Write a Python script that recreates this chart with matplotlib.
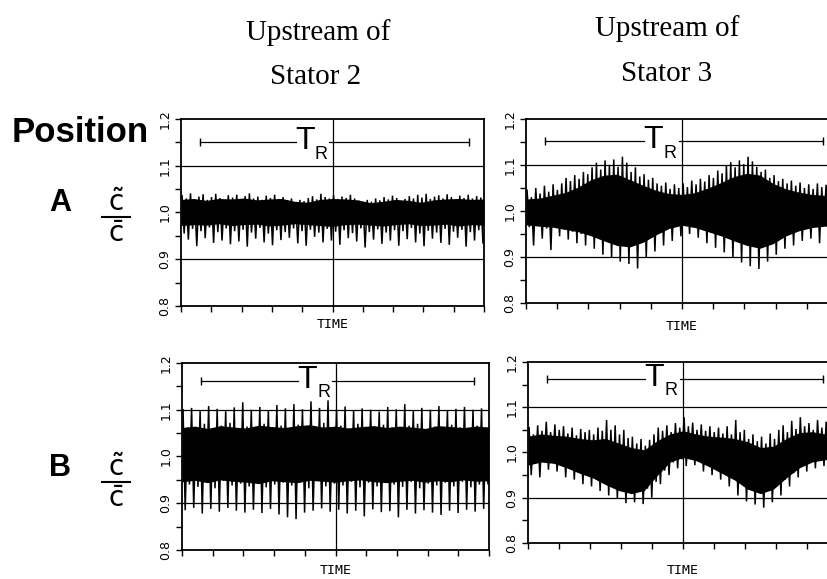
import matplotlib
matplotlib.use('Agg')
import matplotlib.pyplot as plt
from matplotlib.lines import Line2D
import numpy as np

plt.rcParams['mathtext.fontset'] = 'dejavusans'

# ---------------- data ----------------
col_titles = ['Upstream of\nStator 2', 'Upstream of\nStator 3']
row_labels = ['A', 'B']
y_ticks = [0.8, 0.85, 0.9, 0.95, 1.0, 1.05, 1.1, 1.15, 1.2]
y_ticklabels = ['0.8', '', '0.9', '', '1.0', '', '1.1', '', '1.2']
x_ticks = [0.0, 0.1, 0.2, 0.3, 0.4, 0.5, 0.6, 0.7, 0.8, 0.9, 1.0]

# Position A, upstream of stator 2: local maxima / minima of c~/c
a_left_peaks = [1.036, 1.030, 1.041, 1.028, 1.034, 1.039, 1.027, 1.033, 1.040, 1.031, 1.026, 1.037,
                1.032, 1.038, 1.029, 1.035, 1.041, 1.030, 1.034, 1.027, 1.036, 1.031, 1.038, 1.029,
                1.033, 1.026, 1.030, 1.022, 1.027, 1.024, 1.031, 1.035, 1.028, 1.040, 1.033, 1.030,
                1.037, 1.029, 1.034, 1.031, 1.038, 1.030, 1.025, 1.021, 1.027, 1.023, 1.030, 1.026,
                1.033, 1.028, 1.036, 1.031, 1.024, 1.029, 1.035, 1.030, 1.038, 1.032, 1.040, 1.029,
                1.034, 1.037, 1.030, 1.039, 1.033, 1.028, 1.036, 1.031, 1.038, 1.030, 1.035, 1.032]
a_left_troughs = [0.955, 0.942, 0.965, 0.928, 0.960, 0.945, 0.968, 0.935, 0.958, 0.940, 0.966, 0.932,
                  0.960, 0.938, 0.963, 0.927, 0.957, 0.944, 0.967, 0.936, 0.955, 0.930, 0.962, 0.941,
                  0.958, 0.946, 0.966, 0.934, 0.960, 0.929, 0.963, 0.948, 0.957, 0.936, 0.965, 0.940,
                  0.959, 0.931, 0.962, 0.945, 0.956, 0.938, 0.966, 0.925, 0.958, 0.942, 0.964, 0.933,
                  0.957, 0.940, 0.962, 0.929, 0.960, 0.943, 0.967, 0.936, 0.955, 0.928, 0.961, 0.944,
                  0.957, 0.935, 0.965, 0.931, 0.959, 0.946, 0.963, 0.927, 0.958, 0.940, 0.962, 0.935]
# dense (solid black) core of the trace, read at 25 evenly spaced times
a_left_core_top = [1.028, 1.030, 1.026, 1.030, 1.029, 1.031, 1.027, 1.029, 1.030, 1.024, 1.022, 1.028,
                   1.030, 1.029, 1.027, 1.021, 1.024, 1.028, 1.026, 1.022, 1.027, 1.029, 1.030, 1.028, 1.029]
a_left_core_bot = [0.972, 0.974, 0.973, 0.976, 0.972, 0.974, 0.975, 0.971, 0.973, 0.976, 0.974, 0.972,
                   0.970, 0.974, 0.975, 0.973, 0.971, 0.974, 0.976, 0.972, 0.973, 0.975, 0.971, 0.974, 0.973]

# Position A, upstream of stator 3
a_right_peaks = [1.045, 1.030, 1.050, 1.038, 1.055, 1.042, 1.058, 1.046,
                 1.060, 1.072, 1.065, 1.078, 1.070, 1.085, 1.080,
                 1.095, 1.105, 1.090, 1.110, 1.100, 1.112, 1.096, 1.118, 1.105,
                 1.085, 1.095, 1.075, 1.080, 1.068, 1.072, 1.060,
                 1.055, 1.062, 1.048, 1.058, 1.050, 1.060, 1.052, 1.066,
                 1.058, 1.070, 1.064, 1.078, 1.072, 1.088, 1.082,
                 1.098, 1.106, 1.095, 1.110, 1.102, 1.118, 1.108, 1.096,
                 1.085, 1.090, 1.072, 1.078, 1.065, 1.070, 1.060,
                 1.066, 1.055, 1.062, 1.050, 1.058, 1.048, 1.060, 1.052, 1.057, 1.046, 1.054]
a_right_troughs = [0.965, 0.925, 0.970, 0.940, 0.962, 0.915, 0.968, 0.945,
                   0.960, 0.938, 0.955, 0.930, 0.950, 0.925, 0.948,
                   0.918, 0.940, 0.905, 0.935, 0.898, 0.930, 0.890, 0.925, 0.885,
                   0.935, 0.875, 0.940, 0.900, 0.948, 0.912, 0.955,
                   0.925, 0.962, 0.935, 0.968, 0.945, 0.970, 0.950, 0.966,
                   0.942, 0.960, 0.930, 0.955, 0.920, 0.948, 0.910,
                   0.940, 0.898, 0.935, 0.888, 0.930, 0.880, 0.926, 0.874,
                   0.935, 0.890, 0.945, 0.905, 0.950, 0.918, 0.958,
                   0.925, 0.962, 0.935, 0.965, 0.940, 0.968, 0.930, 0.970, 0.945, 0.966, 0.948]
a_right_core_top = [1.026, 1.028, 1.034, 1.040, 1.052, 1.068, 1.078, 1.080, 1.068, 1.056, 1.045, 1.038,
                    1.036, 1.040, 1.050, 1.062, 1.075, 1.082, 1.078, 1.060, 1.048, 1.041, 1.036, 1.034, 1.031]
a_right_core_bot = [0.970, 0.967, 0.965, 0.960, 0.955, 0.946, 0.935, 0.925, 0.922, 0.932, 0.948, 0.962,
                    0.969, 0.964, 0.955, 0.946, 0.935, 0.925, 0.919, 0.929, 0.946, 0.957, 0.964, 0.967, 0.966]

# Position B, upstream of stator 2
b_left_peaks = [1.100, 1.062, 1.104, 1.058, 1.098, 1.070, 1.108, 1.060, 1.102, 1.066, 1.097, 1.072,
                1.105, 1.060, 1.116, 1.064, 1.100, 1.058, 1.106, 1.070, 1.099, 1.062, 1.110, 1.066,
                1.103, 1.060, 1.112, 1.068, 1.101, 1.064, 1.118, 1.058, 1.104, 1.072, 1.120, 1.062,
                1.100, 1.066, 1.107, 1.060, 1.098, 1.070, 1.103, 1.058, 1.100, 1.064, 1.096, 1.068,
                1.106, 1.062, 1.101, 1.060, 1.112, 1.066, 1.099, 1.070, 1.104, 1.058, 1.100, 1.064,
                1.108, 1.060, 1.098, 1.068, 1.102, 1.062, 1.106, 1.058, 1.100, 1.066, 1.103, 1.062]
b_left_troughs = [0.885, 0.940, 0.890, 0.935, 0.878, 0.945, 0.888, 0.932, 0.882, 0.948, 0.890, 0.938,
                  0.884, 0.942, 0.880, 0.936, 0.886, 0.946, 0.879, 0.934, 0.888, 0.940, 0.876, 0.944,
                  0.870, 0.938, 0.866, 0.945, 0.880, 0.932, 0.884, 0.948, 0.889, 0.936, 0.882, 0.942,
                  0.886, 0.938, 0.878, 0.946, 0.884, 0.934, 0.872, 0.944, 0.887, 0.936, 0.881, 0.948,
                  0.883, 0.940, 0.870, 0.935, 0.886, 0.946, 0.878, 0.932, 0.885, 0.942, 0.880, 0.938,
                  0.875, 0.944, 0.884, 0.936, 0.879, 0.946, 0.886, 0.934, 0.882, 0.940, 0.888, 0.942]
b_left_core_top = [1.062, 1.065, 1.060, 1.066, 1.063, 1.061, 1.067, 1.064, 1.062, 1.066, 1.068, 1.063,
                   1.065, 1.061, 1.064, 1.066, 1.062, 1.065, 1.063, 1.060, 1.066, 1.064, 1.062, 1.065, 1.063]
b_left_core_bot = [0.946, 0.949, 0.944, 0.950, 0.947, 0.945, 0.942, 0.948, 0.946, 0.944, 0.949, 0.947,
                   0.945, 0.948, 0.950, 0.946, 0.944, 0.947, 0.949, 0.945, 0.948, 0.946, 0.950, 0.947, 0.948]

# Position B, upstream of stator 3
b_right_peaks = [1.055, 1.040, 1.060, 1.048, 1.068, 1.045, 1.062, 1.050,
                 1.058, 1.042, 1.055, 1.038, 1.052, 1.045, 1.050,
                 1.040, 1.055, 1.048, 1.072, 1.050, 1.060, 1.040, 1.050, 1.032,
                 1.035, 1.020, 1.030, 1.015, 1.028, 1.040, 1.055,
                 1.048, 1.060, 1.045, 1.065, 1.055, 1.078, 1.058, 1.066,
                 1.050, 1.062, 1.048, 1.058, 1.045, 1.055, 1.042,
                 1.058, 1.040, 1.072, 1.045, 1.050, 1.030, 1.040, 1.025,
                 1.035, 1.020, 1.042, 1.030, 1.050, 1.060, 1.045,
                 1.070, 1.052, 1.078, 1.058, 1.065, 1.050, 1.072, 1.055, 1.068, 1.050, 1.062]
b_right_troughs = [0.950, 0.975, 0.945, 0.980, 0.962, 0.985, 0.958, 0.975,
                   0.945, 0.970, 0.940, 0.962, 0.930, 0.955, 0.925,
                   0.948, 0.915, 0.940, 0.905, 0.932, 0.898, 0.925, 0.888, 0.920,
                   0.890, 0.915, 0.886, 0.920, 0.900, 0.935, 0.930,
                   0.960, 0.950, 0.978, 0.965, 0.985, 0.970, 0.990, 0.972,
                   0.985, 0.958, 0.975, 0.950, 0.968, 0.940, 0.955,
                   0.925, 0.945, 0.905, 0.935, 0.892, 0.925, 0.885, 0.920,
                   0.878, 0.915, 0.890, 0.925, 0.905, 0.940, 0.925,
                   0.955, 0.945, 0.970, 0.958, 0.978, 0.965, 0.982, 0.970, 0.985, 0.968, 0.980]
b_right_core_top = [1.036, 1.041, 1.038, 1.036, 1.031, 1.028, 1.031, 1.021, 1.011, 1.006, 1.026, 1.041,
                    1.048, 1.041, 1.036, 1.034, 1.031, 1.024, 1.011, 1.014, 1.031, 1.044, 1.046, 1.041, 1.041]
b_right_core_bot = [0.972, 0.979, 0.976, 0.966, 0.954, 0.944, 0.929, 0.916, 0.909, 0.916, 0.949, 0.979,
                    0.989, 0.982, 0.969, 0.954, 0.939, 0.919, 0.909, 0.919, 0.944, 0.966, 0.979, 0.984, 0.984]

# ---------------- layout ----------------
W, H = 827, 579
fig = plt.figure(figsize=(W / 100, H / 100), dpi=100)


def px_rect(left, top, right, bottom):
    return [left / W, 1 - bottom / H, (right - left) / W, (bottom - top) / H]


panels = [
    (px_rect(181, 119, 484, 306), a_left_peaks, a_left_troughs, a_left_core_top, a_left_core_bot, 1.150, 19),
    (px_rect(526, 119, 838, 303), a_right_peaks, a_right_troughs, a_right_core_top, a_right_core_bot, 1.152, 24),
    (px_rect(182, 363, 489, 550), b_left_peaks, b_left_troughs, b_left_core_top, b_left_core_bot, 1.162, 20),
    (px_rect(528, 362, 838, 543), b_right_peaks, b_right_troughs, b_right_core_top, b_right_core_bot, 1.162, 27),
]

for rect, peaks, troughs, ctop, cbot, tr_y, time_off in panels:
    ax = fig.add_axes(rect)
    n = len(peaks)
    t = []
    v = []
    for i in range(n):
        t += [(i + 0.25) / n, (i + 0.75) / n]
        v += [peaks[i], troughs[i]]
    tc = np.linspace(0, 1, len(ctop))
    ax.fill_between(tc, cbot, ctop, color='black', lw=0)
    ax.plot(t, v, color='black', lw=1.1, solid_joinstyle='miter')

    ax.set_xlim(0, 1)
    ax.set_ylim(0.8, 1.2)
    for yv in (0.9, 1.1):
        ax.axhline(yv, color='black', lw=0.9)
    ax.axvline(0.5, color='black', lw=0.9)

    ax.set_yticks(y_ticks)
    ax.set_yticklabels(y_ticklabels, rotation=90, va='center', fontsize=9)
    ax.set_xticks(x_ticks)
    ax.set_xticklabels([])
    ax.tick_params(direction='out', length=4, width=1.0, pad=3)
    for s in ax.spines.values():
        s.set_linewidth(1.3)

    # T_R bracket
    ax.plot([0.062, 0.378], [tr_y, tr_y], color='black', lw=0.9)
    ax.plot([0.49, 0.952], [tr_y, tr_y], color='black', lw=0.9)
    ax.plot([0.062, 0.952], [tr_y, tr_y], ls='none', marker='|', ms=6, mew=1.0, color='black')
    ax.text(0.408, tr_y + 0.002, 'T', fontsize=23, family='Liberation Sans',
            ha='center', va='center')
    ax.text(0.462, tr_y - 0.026, 'R', fontsize=13, family='Liberation Sans',
            ha='center', va='center')

    ax.annotate('TIME', xy=(0.5, 0), xycoords='axes fraction',
                xytext=(0, -time_off), textcoords='offset pixels',
                ha='center', va='center', fontsize=9.5, family='DejaVu Sans Mono')

# column titles
fig.text(318 / W, 1 - 40 / H, 'Upstream of', family='Liberation Serif', fontsize=21,
         ha='center', va='baseline')
fig.text(316 / W, 1 - 84 / H, 'Stator 2', family='Liberation Serif', fontsize=21,
         ha='center', va='baseline')
fig.text(667 / W, 1 - 36 / H, 'Upstream of', family='Liberation Serif', fontsize=21,
         ha='center', va='baseline')
fig.text(667 / W, 1 - 81 / H, 'Stator 3', family='Liberation Serif', fontsize=21,
         ha='center', va='baseline')

# row labels with c~ / c-bar fraction
fig.text(12 / W, 1 - 142 / H, 'Position', family='Liberation Sans', fontweight='bold',
         fontsize=25, ha='left', va='baseline')
for lab, yb, ybar in [(row_labels[0], 211, 217), (row_labels[1], 476, 482)]:
    fig.text(60 / W, 1 - yb / H, lab, family='Liberation Sans', fontweight='bold',
             fontsize=22, ha='center', va='baseline')
    fig.text(116 / W, 1 - (ybar - 6) / H, r'$\tilde{\mathsf{c}}$', fontsize=20,
             ha='center', va='baseline')
    fig.text(116 / W, 1 - (ybar + 25) / H, r'$\bar{\mathsf{c}}$', fontsize=20,
             ha='center', va='baseline')
    fig.add_artist(Line2D([102 / W, 130 / W], [1 - ybar / H, 1 - ybar / H],
                          color='black', lw=1.5, transform=fig.transFigure))

fig.savefig('out.png', dpi=100, facecolor='white')
